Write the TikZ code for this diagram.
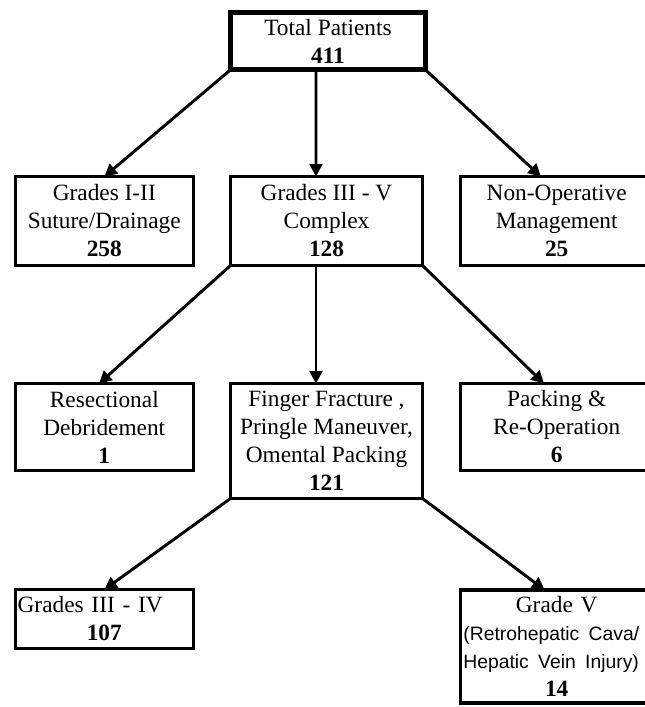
\documentclass[tikz,border=0pt]{standalone}
\usepackage{fontspec}
\setmainfont{Liberation Serif}
\newfontfamily\injuryfont{Liberation Sans}
\usetikzlibrary{arrows.meta,positioning}

\tikzset{
  stage/.style={draw, line width=2.5pt, align=center, inner sep=1pt, outer sep=0pt,
    font=\fontsize{17.5}{21}\selectfont},
  flow/.style={->, line width=2.2pt}
}
\newcommand{\sanstext}[1]{{\injuryfont\fontsize{14.5}{21}\selectfont\spaceskip=7pt #1}}

\begin{document}
\begin{tikzpicture}[x=0.75pt, y=-0.75pt, >={Triangle[length=9.5pt,width=9.5pt]}]
\useasboundingbox (0,0) rectangle (644,707);

% top
\node [stage, line width=3.75pt, minimum width=146pt, minimum height=43pt] (total) at (328,41) {Total Patients\\\textbf{411}};

% first split
\node [stage, minimum width=133.5pt, minimum height=66.5pt] (suture) at (104.3,221) {Grades I-II\\Suture/Drainage\\\textbf{258}};
\node [stage, minimum width=143.7pt, minimum height=66.5pt] (complex) at (326.5,221) {Grades III - V\\Complex\\\textbf{128}};
\node [stage, minimum width=144pt, minimum height=66.5pt] (nonop) at (556.7,221) {Non-Operative\\Management\\\textbf{25}};

% second split
\node [stage, minimum width=133.5pt, minimum height=65pt] (resect) at (104.3,427) {Resectional\\Debridement\\\textbf{1}};
\node [stage, minimum width=143.7pt, minimum height=86pt] (finger) at (326.5,441) {Finger Fracture ,\\Pringle Maneuver,\\Omental Packing\\\textbf{121}};
\node [stage, minimum width=144pt, minimum height=65pt] (packing) at (556.7,427) {Packing \&\\Re-Operation\\\textbf{6}};

% third split
\node [stage, text width=130pt, minimum width=133.5pt, minimum height=44pt] (gradefour) at (104.3,619) {\makebox[130pt][l]{Grades III - IV}\\\textbf{107}};
\node [stage, text width=140pt, minimum width=144pt, minimum height=84.75pt] (gradefive) at (556.7,646.5) {Grade V\\\makebox[140pt][l]{\sanstext{(Retrohepatic Cava/}}\\\makebox[140pt][l]{\sanstext{Hepatic Vein Injury)}}\\\textbf{14}};

\draw [flow] (total.south west) -- (suture.north);
\draw [flow] ([xshift=-9pt]total.south) -- ([xshift=-7.9pt]complex.north);
\draw [flow] (total.south east) -- ([xshift=-11.8pt]nonop.north);

\draw [flow] (complex.south west) -- ([xshift=-4pt]resect.north);
\draw [flow] ([xshift=-7.9pt]complex.south) -- ([xshift=-7.9pt]finger.north);
\draw [flow] (complex.south east) -- ([xshift=-9.5pt]packing.north);

\draw [flow] (finger.south west) -- (gradefour.north);
\draw [flow] (finger.south east) -- ([xshift=-9pt]gradefive.north);
\end{tikzpicture}
\end{document}
